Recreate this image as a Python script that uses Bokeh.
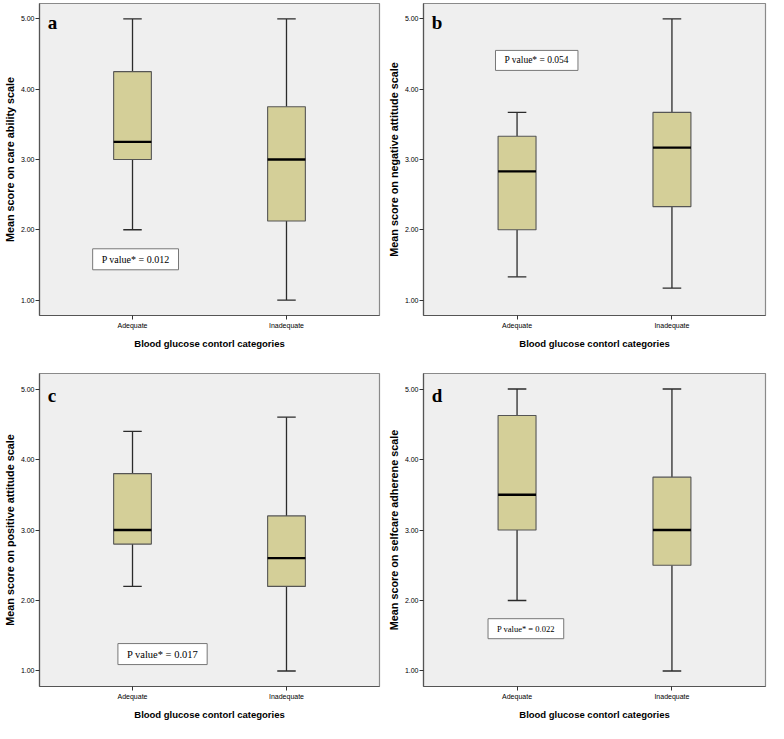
from bokeh.plotting import figure
from bokeh.models import (ColumnDataSource, FactorRange, Range1d, FixedTicker,
                          NumeralTickFormatter, Label)
from bokeh.transform import dodge
from bokeh.layouts import gridplot
from bokeh.embed import file_html
from bokeh.resources import INLINE

cats = ["Adequate", "Inadequate"]
x_title = "Blood glucose contorl categories"

# panel a: care ability
a_min = [2.0, 1.0]
a_q1 = [3.0, 2.125]
a_med = [3.25, 3.0]
a_q3 = [4.25, 3.75]
a_max = [5.0, 5.0]
# panel b: negative attitude
b_min = [1.33, 1.17]
b_q1 = [2.0, 2.33]
b_med = [2.83, 3.17]
b_q3 = [3.33, 3.67]
b_max = [3.67, 5.0]
# panel c: positive attitude
c_min = [2.2, 1.0]
c_q1 = [2.8, 2.2]
c_med = [3.0, 2.6]
c_q3 = [3.8, 3.2]
c_max = [4.4, 4.6]
# panel d: selfcare adherence
d_min = [2.0, 1.0]
d_q1 = [3.0, 2.5]
d_med = [3.5, 3.0]
d_q3 = [4.625, 3.75]
d_max = [5.0, 5.0]

y_ticks = [1, 2, 3, 4, 5]

panels = [
    dict(letter="a", ytitle="Mean score on care ability scale",
         mn=a_min, q1=a_q1, med=a_med, q3=a_q3, mx=a_max,
         ptext="P value* = 0.012", px=0.52, py=1.58, pfs="10px",
         lx=-0.05, ly=4.95, left=30, right=5, top=3, bottom=46),
    dict(letter="b", ytitle="Mean score on negative attitude scale",
         mn=b_min, q1=b_q1, med=b_med, q3=b_q3, mx=b_max,
         ptext="P value* = 0.054", px=0.627, py=4.41, pfs="9.5px",
         lx=-0.05, ly=4.95, left=38, right=3, top=3, bottom=46),
    dict(letter="c", ytitle="Mean score on positive attitude scale",
         mn=c_min, q1=c_q1, med=c_med, q3=c_q3, mx=c_max,
         ptext="P value* = 0.017", px=0.695, py=1.24, pfs="10.5px",
         lx=-0.05, ly=4.91, left=30, right=5, top=12, bottom=36),
    dict(letter="d", ytitle="Mean score on selfcare adherene scale",
         mn=d_min, q1=d_q1, med=d_med, q3=d_q3, mx=d_max,
         ptext="P value* = 0.022", px=0.557, py=1.6, pfs="8.5px",
         lx=-0.05, ly=4.91, left=38, right=3, top=12, bottom=36),
]

BOX_W = 0.245
CAP_W = 0.12
W, H = 384, 361


def make_panel(d):
    src = ColumnDataSource(dict(x=cats, mn=d["mn"], q1=d["q1"], med=d["med"],
                                q3=d["q3"], mx=d["mx"]))
    p = figure(width=W, height=H, output_backend="svg", toolbar_location=None,
               x_range=FactorRange(factors=cats, range_padding=0.104),
               y_range=Range1d(0.78, 5.22),
               min_border_left=d["left"], min_border_right=d["right"],
               min_border_top=d["top"], min_border_bottom=d["bottom"])
    p.background_fill_color = "#efefef"
    p.border_fill_color = "white"
    p.outline_line_color = "#8a8a8a"
    p.outline_line_width = 1.2
    p.xgrid.visible = False
    p.ygrid.visible = False

    # whiskers
    p.segment(x0="x", y0="q3", x1="x", y1="mx", source=src,
              line_color="#2b2b2b", line_width=1.3)
    p.segment(x0="x", y0="q1", x1="x", y1="mn", source=src,
              line_color="#2b2b2b", line_width=1.3)
    # caps
    for col in ("mx", "mn"):
        p.segment(x0=dodge("x", -CAP_W / 2, range=p.x_range), y0=col,
                  x1=dodge("x", CAP_W / 2, range=p.x_range), y1=col,
                  source=src, line_color="#2b2b2b", line_width=1.3)
    # boxes
    p.vbar(x="x", top="q3", bottom="q1", width=BOX_W, source=src,
           fill_color="#d4cf98", line_color="#555555", line_width=1.1)
    # medians
    p.segment(x0=dodge("x", -BOX_W / 2, range=p.x_range), y0="med",
              x1=dodge("x", BOX_W / 2, range=p.x_range), y1="med",
              source=src, line_color="black", line_width=2.3)

    # axes
    for ax in (p.xaxis[0], p.yaxis[0]):
        ax.axis_line_color = "#555555"
        ax.axis_line_width = 1.2
        ax.major_tick_line_color = "#333333"
        ax.major_tick_out = 4
        ax.major_tick_in = 0
        ax.minor_tick_line_color = None
        ax.major_label_text_font = "Liberation Sans"
        ax.major_label_text_font_size = "7px"
        ax.major_label_text_color = "black"
        ax.major_label_standoff = 2
        ax.axis_label_text_font = "Liberation Sans"
        ax.axis_label_text_font_style = "bold"
        ax.axis_label_text_color = "black"
        ax.axis_label_standoff = 5
    p.yaxis[0].ticker = FixedTicker(ticks=y_ticks)
    p.yaxis[0].formatter = NumeralTickFormatter(format="0.00")
    p.yaxis[0].axis_label = d["ytitle"]
    p.yaxis[0].axis_label_text_font_size = "10.8px"
    p.yaxis[0].axis_label_standoff = 2
    p.yaxis[0].major_label_standoff = 1
    p.xaxis[0].axis_label = x_title
    p.xaxis[0].axis_label_text_font_size = "9.5px"
    p.xaxis[0].axis_label_standoff = 6

    p.add_layout(Label(x=d["lx"], y=d["ly"], text=d["letter"],
                       text_font="Liberation Serif", text_font_style="bold",
                       text_font_size="19px", text_color="black",
                       text_baseline="alphabetic", text_align="left"))
    p.add_layout(Label(x=d["px"], y=d["py"], text=d["ptext"],
                       text_font="Liberation Serif", text_font_size=d["pfs"],
                       text_color="black", text_align="center",
                       text_baseline="middle",
                       background_fill_color="white",
                       border_line_color="#777777", border_line_width=1,
                       padding=dict(left=9, right=9, top=5, bottom=5)))
    return p


figs = [make_panel(d) for d in panels]
grid = gridplot([[figs[0], figs[1]], [figs[2], figs[3]]],
                toolbar_location=None)

open("out.html", "w").write(file_html(grid, INLINE))
